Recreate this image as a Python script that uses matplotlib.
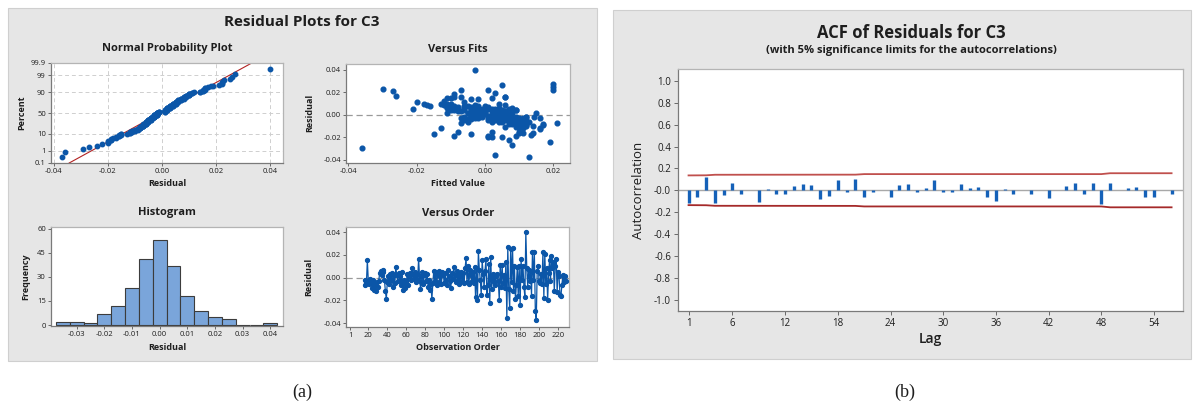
import numpy as np
import matplotlib
matplotlib.use("Agg")
import matplotlib.pyplot as plt
from matplotlib.patches import Rectangle
from statistics import NormalDist

# ---------------- data ----------------
obs_start = 16
residuals = [
    -0.007, -0.002, -0.005, 0.015, -0.003, -0.006, -0.001, -0.004, -0.009, -0.002,
    -0.011, -0.006, -0.012, -0.004, -0.008, -0.003, 0.004, 0.006, 0.002, 0.007,
    0.005, -0.002, -0.012, -0.019, -0.004, 0.001, -0.006, 0.003, -0.002, 0.004,
    -0.008, 0.002, -0.005, 0.009, 0.002, -0.003, 0.004, 0.001, -0.007, 0.005,
    -0.004, -0.011, -0.002, -0.009, -0.005, 0.003, -0.007, 0.001, 0.004, -0.002,
    0.008, 0.002, -0.001, 0.005, -0.004, 0.003, -0.002, 0.016, 0.001, -0.010,
    -0.004, 0.005, -0.006, 0.002, 0.004, -0.003, 0.003, -0.008, -0.002, -0.011,
    -0.006, -0.019, -0.005, 0.006, -0.003, 0.005, -0.007, 0.002, 0.006, -0.004,
    0.001, -0.006, 0.005, 0.003, -0.005, 0.004, -0.002, -0.007, 0.007, 0.001,
    -0.003, -0.009, 0.004, -0.001, 0.009, 0.002, -0.004, 0.006, -0.002, 0.003,
    -0.006, 0.001, 0.005, -0.003, 0.004, -0.005, 0.008, 0.017, -0.004, 0.010,
    -0.006, 0.007, 0.002, -0.003, 0.005, -0.005, 0.009, -0.017, 0.008, -0.020,
    0.023, 0.007, -0.002, -0.015, 0.015, 0.003, -0.008, 0.006, 0.016, -0.015,
    -0.007, 0.012, -0.022, 0.018, -0.010, 0.003, -0.004, 0.002, -0.007, 0.001,
    0.003, -0.003, -0.020, 0.011, -0.008, 0.011, -0.005, 0.002, -0.009, 0.014,
    -0.036, 0.027, -0.010, -0.027, 0.025, -0.004, 0.026, -0.012, 0.010, -0.019,
    -0.007, 0.009, -0.016, 0.010, -0.024, 0.016, -0.002, 0.010, -0.008, -0.017,
    0.040, 0.008, -0.008, 0.007, -0.003, 0.006, -0.016, 0.022, -0.002, 0.022,
    -0.029, -0.037, 0.006, 0.010, -0.003, -0.005, 0.003, -0.006, 0.022, -0.018,
    0.021, -0.006, 0.008, -0.020, 0.004, 0.015, -0.003, 0.019, 0.008, 0.014,
    -0.012, 0.010, 0.016, -0.013, 0.005, 0.001, -0.015, -0.016, -0.007, 0.002,
    -0.004, 0.001, -0.003,
]
fitted = [
    0.010, 0.004, 0.012, -0.011, 0.002, 0.008, -0.004, 0.006, 0.009, -0.002,
    0.011, 0.009, 0.011, -0.005, 0.007, 0.001, -0.006, -0.003, 0.003, -0.008,
    0.000, 0.005, 0.010, 0.001, 0.008, -0.004, 0.011, -0.007, -0.001, 0.004,
    0.010, -0.005, 0.006, -0.012, 0.002, -0.003, -0.009, 0.007, 0.009, -0.004,
    0.003, 0.009, -0.006, 0.012, 0.005, -0.002, 0.008, 0.000, -0.010, 0.006,
    -0.005, 0.003, -0.003, 0.001, 0.010, -0.008, 0.004, -0.009, -0.001, 0.011,
    -0.004, 0.007, 0.002, -0.011, 0.005, 0.008, -0.003, 0.011, -0.002, 0.006,
    -0.005, 0.009, 0.001, -0.004, 0.009, 0.003, -0.007, 0.000, -0.011, 0.007,
    -0.003, 0.004, -0.001, 0.006, -0.006, 0.002, 0.008, 0.010, -0.004, 0.005,
    -0.002, 0.010, -0.008, 0.001, -0.003, 0.006, -0.005, 0.004, 0.009, -0.001,
    0.007, -0.004, 0.002, -0.007, 0.009, 0.003, -0.002, -0.026, 0.011, -0.012,
    0.005, -0.010, 0.008, -0.006, 0.004, 0.010, -0.017, -0.004, -0.016, 0.001,
    -0.030, 0.001, 0.012, -0.008, -0.010, 0.006, 0.011, -0.002, 0.006, 0.002,
    0.009, -0.012, 0.007, -0.009, 0.012, 0.000, 0.008, -0.005, 0.010, 0.004,
    -0.001, 0.016, 0.002, -0.020, 0.008, -0.006, 0.009, -0.003, 0.017, -0.002,
    0.003, 0.020, 0.014, 0.008, 0.020, 0.011, 0.005, 0.016, -0.010, -0.009,
    0.009, 0.006, 0.010, -0.013, 0.019, -0.007, 0.012, 0.004, 0.017, -0.015,
    -0.003, 0.000, 0.009, -0.011, 0.010, 0.008, 0.011, 0.020, 0.0145, -0.007,
    -0.036, 0.013, -0.006, -0.018, 0.007, 0.011, -0.001, 0.013, 0.001, 0.0135,
    -0.027, 0.010, -0.006, 0.005, 0.009, 0.002, 0.011, 0.003, -0.009, -0.004,
    -0.013, -0.011, 0.006, 0.016, -0.021, 0.003, 0.010, 0.014, 0.021, 0.015,
    0.008, -0.002, 0.005,
]
hist_mid = [-0.035, -0.030, -0.025, -0.020, -0.015, -0.010, -0.005, 0.000,
            0.005, 0.010, 0.015, 0.020, 0.025, 0.030, 0.035, 0.040]
hist_count = [2, 2, 1, 7, 12, 23, 41, 53, 37, 18, 9, 5, 4, 0, 0, 1]

acf_lags = list(range(1, 57))
acf_values = [
    -0.12, -0.06, 0.125, -0.12, -0.04, 0.065, -0.03, 0.0, -0.11, 0.01,
    -0.03, -0.03, 0.04, 0.055, 0.05, -0.08, -0.05, 0.09, -0.02, 0.10,
    -0.06, -0.02, 0.0, -0.06, 0.05, 0.055, -0.02, 0.02, 0.09, -0.02,
    -0.015, 0.055, 0.02, 0.03, -0.06, -0.10, 0.01, -0.03, 0.0, -0.03,
    0.0, -0.07, 0.0, 0.04, 0.065, -0.03, 0.065, -0.13, 0.065, 0.0,
    0.02, 0.03, -0.06, -0.06, 0.0, -0.03,
]
limit_lags = [1, 3, 4, 20, 21, 48, 49, 56]
limit_values = [0.136, 0.137, 0.142, 0.143, 0.148, 0.148, 0.156, 0.156]

prob_ticks = [0.1, 1, 10, 50, 90, 99, 99.9]

# ---------------- styling ----------------
W, H = 1198, 403
fig = plt.figure(figsize=(W / 100, H / 100), dpi=100)
FONT = ["Open Sans", "DejaVu Sans"]
plt.rcParams["font.family"] = FONT
BLUE = "#0b56a8"
PANEL = "#e6e6e6"
TXT = "#1e1e1e"


def ax_px(l, t, r, b):
    return fig.add_axes([l / W, 1 - b / H, (r - l) / W, (b - t) / H])


def style(ax, fs=6):
    for s in ["left", "bottom"]:
        ax.spines[s].set_color("#7a7a7a")
    for s in ["top", "right"]:
        ax.spines[s].set_color("#b4b4b4")
    for s in ax.spines.values():
        s.set_linewidth(0.9)
    ax.tick_params(length=2.5, width=0.6, color="#555555", labelsize=fs,
                   pad=1.2, labelcolor=TXT)


def fig_text(x, y, s, **kw):
    fig.text(x / W, 1 - y / H, s, ha="center", va="center", color=TXT, **kw)


# panel backgrounds
fig.add_artist(Rectangle((8 / W, 1 - 361 / H), (597 - 8) / W, (361 - 8) / H,
                         transform=fig.transFigure, facecolor=PANEL,
                         edgecolor="#cfcfcf", lw=0.8, zorder=0))
fig.add_artist(Rectangle((613 / W, 1 - 359 / H), (1191 - 613) / W, (359 - 10) / H,
                         transform=fig.transFigure, facecolor=PANEL,
                         edgecolor="#cfcfcf", lw=0.8, zorder=0))

res = np.array(residuals)
fit = np.array(fitted)
order = np.arange(obs_start, obs_start + len(res))

fig_text(302, 22, "Residual Plots for C3", fontsize=11, fontweight="bold")

# ---- Normal probability plot ----
nd = NormalDist()
ax1 = ax_px(51, 63, 283, 163)
srt = np.sort(res)
n = len(srt)
zq = np.array([nd.inv_cdf((i + 1 - 0.3) / (n + 0.4)) for i in range(n)])
zlo, zhi = nd.inv_cdf(0.001), nd.inv_cdf(0.999)
mu, sd = res.mean(), res.std(ddof=1)
ax1.plot([mu + sd * zlo, mu + sd * zhi], [zlo, zhi], color="#b22222", lw=0.8, zorder=2)
ax1.plot(srt, zq, "o", color=BLUE, ms=3.2, mec=BLUE, zorder=3)
ax1.set_ylim(zlo, zhi)
ax1.set_xlim(-0.041, 0.0447)
ax1.set_yticks([nd.inv_cdf(p / 100) for p in prob_ticks])
ax1.set_yticklabels([f"{p:g}" for p in prob_ticks])
ax1.set_xticks([-0.04, -0.02, 0.0, 0.02, 0.04])
ax1.set_xticklabels(["-0.04", "-0.02", "0.00", "0.02", "0.04"])
ax1.grid(True, ls=(0, (4, 3)), color="#cfcfcf", lw=0.7)
ax1.set_axisbelow(True)
style(ax1, 5.5)
fig_text(167, 49, "Normal Probability Plot", fontsize=8, fontweight="bold")
fig_text(167, 184, "Residual", fontsize=6.5, fontweight="bold")
fig_text(22, 113, "Percent", fontsize=6.5, fontweight="bold", rotation=90)

# ---- Versus fits ----
ax2 = ax_px(346, 64, 570, 163)
ax2.axhline(0, color="#9a9a9a", lw=0.9, ls=(0, (5, 3)), zorder=1)
ax2.plot(fit, res, "o", color=BLUE, ms=3.4, mec=BLUE, zorder=3)
ax2.set_xlim(-0.0407, 0.0249)
ax2.set_ylim(-0.0427, 0.045)
ax2.set_xticks([-0.04, -0.02, 0.0, 0.02])
ax2.set_xticklabels(["-0.04", "-0.02", "0.00", "0.02"])
ax2.set_yticks([-0.04, -0.02, 0.0, 0.02, 0.04])
ax2.set_yticklabels(["-0.04", "-0.02", "0.00", "0.02", "0.04"])
style(ax2, 5.5)
fig_text(458, 49, "Versus Fits", fontsize=8, fontweight="bold")
fig_text(458, 184, "Fitted Value", fontsize=6.5, fontweight="bold")
fig_text(310, 113, "Residual", fontsize=6.5, fontweight="bold", rotation=90)

# ---- Histogram ----
ax3 = ax_px(51, 227, 283, 326)
ax3.bar(hist_mid, hist_count, width=0.005, color="#7aa5da", edgecolor="#3c3c3c",
        lw=0.8, zorder=2)
ax3.set_xlim(-0.0393, 0.0446)
ax3.set_ylim(-0.6, 61)
ax3.set_yticks([0, 15, 30, 45, 60])
xt = [-0.03, -0.02, -0.01, 0.0, 0.01, 0.02, 0.03, 0.04]
ax3.set_xticks(xt)
ax3.set_xticklabels([f"{v:.2f}" for v in xt])
style(ax3, 5.5)
fig_text(167, 213, "Histogram", fontsize=8, fontweight="bold")
fig_text(167, 347, "Residual", fontsize=6.5, fontweight="bold")
fig_text(26, 277, "Frequency", fontsize=6.5, fontweight="bold", rotation=90)

# ---- Versus order ----
ax4 = ax_px(346, 227, 569, 327)
ax4.axhline(0, color="#9a9a9a", lw=0.9, ls=(0, (5, 3)), zorder=1)
ax4.plot(order, res, "-o", color=BLUE, ms=2.8, lw=0.9, mec=BLUE, zorder=3)
ax4.set_xlim(-3.5, 231.5)
ax4.set_ylim(-0.0435, 0.0444)
ax4.set_xticks([1, 20, 40, 60, 80, 100, 120, 140, 160, 180, 200, 220])
ax4.set_yticks([-0.04, -0.02, 0.0, 0.02, 0.04])
ax4.set_yticklabels(["-0.04", "-0.02", "0.00", "0.02", "0.04"])
style(ax4, 5.5)
fig_text(458, 213, "Versus Order", fontsize=8, fontweight="bold")
fig_text(458, 347, "Observation Order", fontsize=6.5, fontweight="bold")
fig_text(309, 277, "Residual", fontsize=6.5, fontweight="bold", rotation=90)

# ---- ACF ----
ax5 = ax_px(678, 69, 1183, 311)
ax5.axhline(0, color="#a8a8a8", lw=1.0, zorder=1)
ax5.vlines(acf_lags, 0, acf_values, color="#1561b8", lw=2.4, zorder=3)
ax5.plot(limit_lags, limit_values, color="#c0504d", lw=1.3, zorder=2)
ax5.plot(limit_lags, [-v for v in limit_values], color="#a52a2a", lw=1.3, zorder=2)
ax5.set_xlim(-0.2, 57.3)
ax5.set_ylim(-1.105, 1.11)
ax5.set_xticks([1, 6, 12, 18, 24, 30, 36, 42, 48, 54])
yt = np.round(np.arange(-1.0, 1.01, 0.2), 1)
ax5.set_yticks(yt)
ax5.set_yticklabels([f"{v:.1f}" for v in yt])
style(ax5, 7)
ax5.tick_params(length=3, pad=2)
fig_text(911, 33, "ACF of Residuals for C3", fontsize=12, fontweight="bold")
fig_text(911, 51, "(with 5% significance limits for the autocorrelations)",
         fontsize=8, fontweight="bold")
fig_text(930, 339, "Lag", fontsize=10, fontweight="semibold")
fig_text(639, 190, "Autocorrelation", fontsize=9.5, rotation=90)

# ---- captions ----
fig_text(302, 392, "(a)", fontsize=13, family="Liberation Serif")
fig_text(905, 392, "(b)", fontsize=13, family="Liberation Serif")

fig.savefig("out.png", dpi=100, facecolor="white")
